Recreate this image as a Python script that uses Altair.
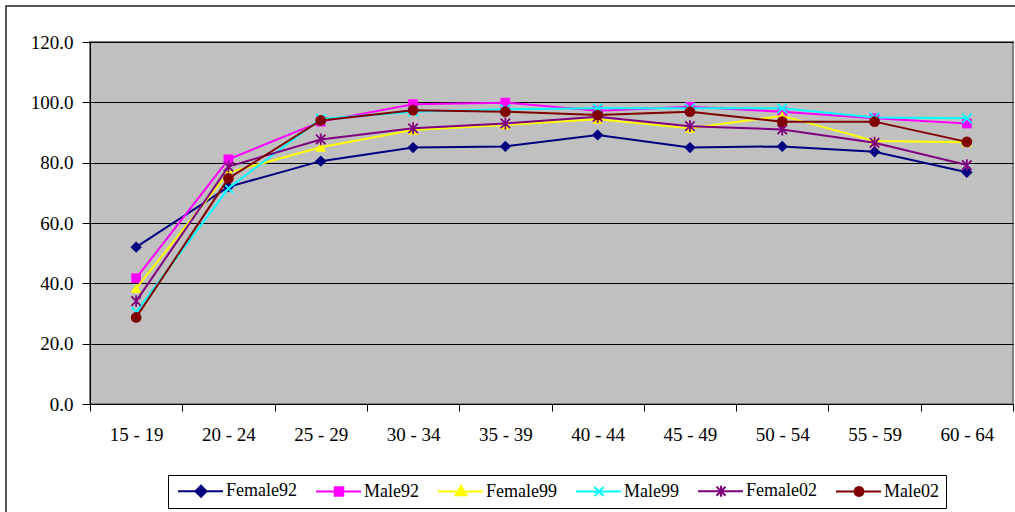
import math
import altair as alt
import pandas as pd

age_groups = ["15 - 19", "20 - 24", "25 - 29", "30 - 34", "35 - 39",
              "40 - 44", "45 - 49", "50 - 54", "55 - 59", "60 - 64"]
series_names = ["Female92", "Male92", "Female99", "Male99", "Female02", "Male02"]
female92 = [52.0, 72.0, 80.5, 85.0, 85.4, 89.2, 85.0, 85.4, 83.6, 76.8]
male92 = [41.7, 81.1, 93.6, 99.4, 99.9, 97.2, 98.5, 96.9, 94.7, 93.0]
female99 = [38.3, 76.7, 85.1, 90.8, 92.5, 94.4, 91.4, 95.5, 87.2, 86.8]
male99 = [30.5, 71.5, 94.5, 96.9, 97.7, 98.0, 98.0, 98.0, 95.0, 94.7]
female02 = [34.1, 78.7, 87.7, 91.4, 93.0, 95.2, 92.1, 91.0, 86.6, 79.2]
male02 = [28.7, 74.8, 94.0, 97.4, 96.9, 95.8, 96.9, 93.6, 93.6, 86.9]
y_ticks = [0, 20, 40, 60, 80, 100, 120]

colors = ["#000080", "#FF00FF", "#FFFF00", "#00FFFF", "#800080", "#800000"]
FONT = "Liberation Serif, Times New Roman, serif"

values_by_series = [female92, male92, female99, male99, female02, male02]
rows = []
for name, vals in zip(series_names, values_by_series):
    for age, v in zip(age_groups, vals):
        rows.append({"age": age, "series": name, "value": v})
df = pd.DataFrame(rows)

# ---- marker styles for the plotted points
X_PATH = "M-1,-1L1,1M-1,1L1,-1"
AST_PATH = "M-1,-1L1,1M-1,1L1,-1M0,-1.25L0,1.25"
marker_styles = [
    dict(shape="diamond", filled=True, size=130),
    dict(shape="square", filled=True, size=95),
    dict(shape="triangle-up", filled=True, size=110),
    dict(shape=X_PATH, filled=False, size=90, strokeWidth=1.8),
    dict(shape=AST_PATH, filled=False, size=90, strokeWidth=1.8),
    dict(shape="circle", filled=True, size=115),
]

# ---- legend symbols: a short line with the marker (stroke-only paths)
def concentric(pts, scales):
    out = ""
    for s in scales:
        out += "M" + "L".join(f"{s * x:.3f},{s * y:.3f}" for x, y in pts) + "Z"
    return out

LINE = "M-4.6,0L4.4,0"
diamond_pts = [(-1.1, 0), (0, -1.1), (1.1, 0), (0, 1.1)]
square_pts = [(-0.85, -0.85), (0.85, -0.85), (0.85, 0.85), (-0.85, 0.85)]
tri_pts = [(0, -1.15), (1.1, 0.75), (-1.1, 0.75)]
circ_pts = [(0.9 * math.cos(2 * math.pi * k / 16), 0.9 * math.sin(2 * math.pi * k / 16))
            for k in range(16)]
legend_paths = [
    LINE + concentric(diamond_pts, [1, 0.64, 0.28]),
    LINE + concentric(square_pts, [1, 0.6, 0.2]),
    LINE + concentric(tri_pts, [1, 0.6, 0.25]),
    LINE + "M-0.9,-0.9L0.9,0.9M-0.9,0.9L0.9,-0.9",
    LINE + "M-0.9,-0.9L0.9,0.9M-0.9,0.9L0.9,-0.9M0,-1.1L0,1.1",
    LINE + concentric(circ_pts, [1, 0.6, 0.25]),
]

x_enc = alt.X("age:N", sort=age_groups,
              scale=alt.Scale(type="band", paddingInner=0, paddingOuter=0),
              axis=alt.Axis(title=None, labelAngle=0, tickBand="extent", tickSize=7,
                            labelPadding=14, grid=False, domainColor="black",
                            tickColor="black", labelFont=FONT,
                            labelFontSize=19, labelColor="black"))
y_enc = alt.Y("value:Q", scale=alt.Scale(domain=[0, 120], nice=False, zero=True),
              axis=alt.Axis(title=None, values=y_ticks, format=".1f", tickSize=8,
                            labelPadding=9, grid=True, gridColor="black", gridWidth=1,
                            domainColor="black", tickColor="black",
                            labelFont=FONT, labelFontSize=19,
                            labelColor="black"))

base = alt.Chart(df)

layers = []
for i, name in enumerate(series_names):
    layers.append(
        base.transform_filter(alt.datum.series == name)
        .mark_line(strokeWidth=2, color=colors[i])
        .encode(x=x_enc, y=y_enc)
    )
    layers.append(
        base.transform_filter(alt.datum.series == name)
        .mark_point(opacity=1, color=colors[i], **marker_styles[i])
        .encode(x=x_enc, y=y_enc)
    )

leg = alt.Legend(title=None, orient="none", legendX=78, legendY=433,
                 direction="horizontal", columns=6)
legend_layer = base.mark_point(filled=False, size=100, strokeWidth=2, opacity=1,
                               clip=True).encode(
    x=x_enc,
    y=alt.value(-5000),
    color=alt.Color("series:N", sort=series_names,
                    scale=alt.Scale(domain=series_names, range=colors), legend=leg),
    shape=alt.Shape("series:N", sort=series_names,
                    scale=alt.Scale(domain=series_names, range=legend_paths), legend=leg),
)

frame = alt.Chart(alt.Data(values=[{"a": 1}])).mark_rect(
    fillOpacity=0, stroke="#202020", strokeWidth=1.5, clip=False
).encode(x=alt.value(-84), y=alt.value(-36), x2=alt.value(1100), y2=alt.value(600))

chart = alt.layer(*layers, legend_layer, frame).properties(
    width=923, height=362,
    background="white",
    autosize=alt.AutoSizeParams(type="none"),
    padding={"left": 90, "top": 42, "right": 2, "bottom": 108},
).configure_view(
    fill="#C0C0C0", stroke="#808080", strokeWidth=2
).configure_axis(
    labelFont=FONT
).configure_legend(
    strokeColor="black", fillColor="white", padding=7, columnPadding=15,
    labelFont=FONT, labelFontSize=18, labelColor="black",
    symbolOffset=17, labelOffset=16, symbolSize=100, symbolStrokeWidth=2,
    symbolOpacity=1, cornerRadius=0,
)

chart.save("out.html", embed_options={"renderer": "svg", "actions": False})
